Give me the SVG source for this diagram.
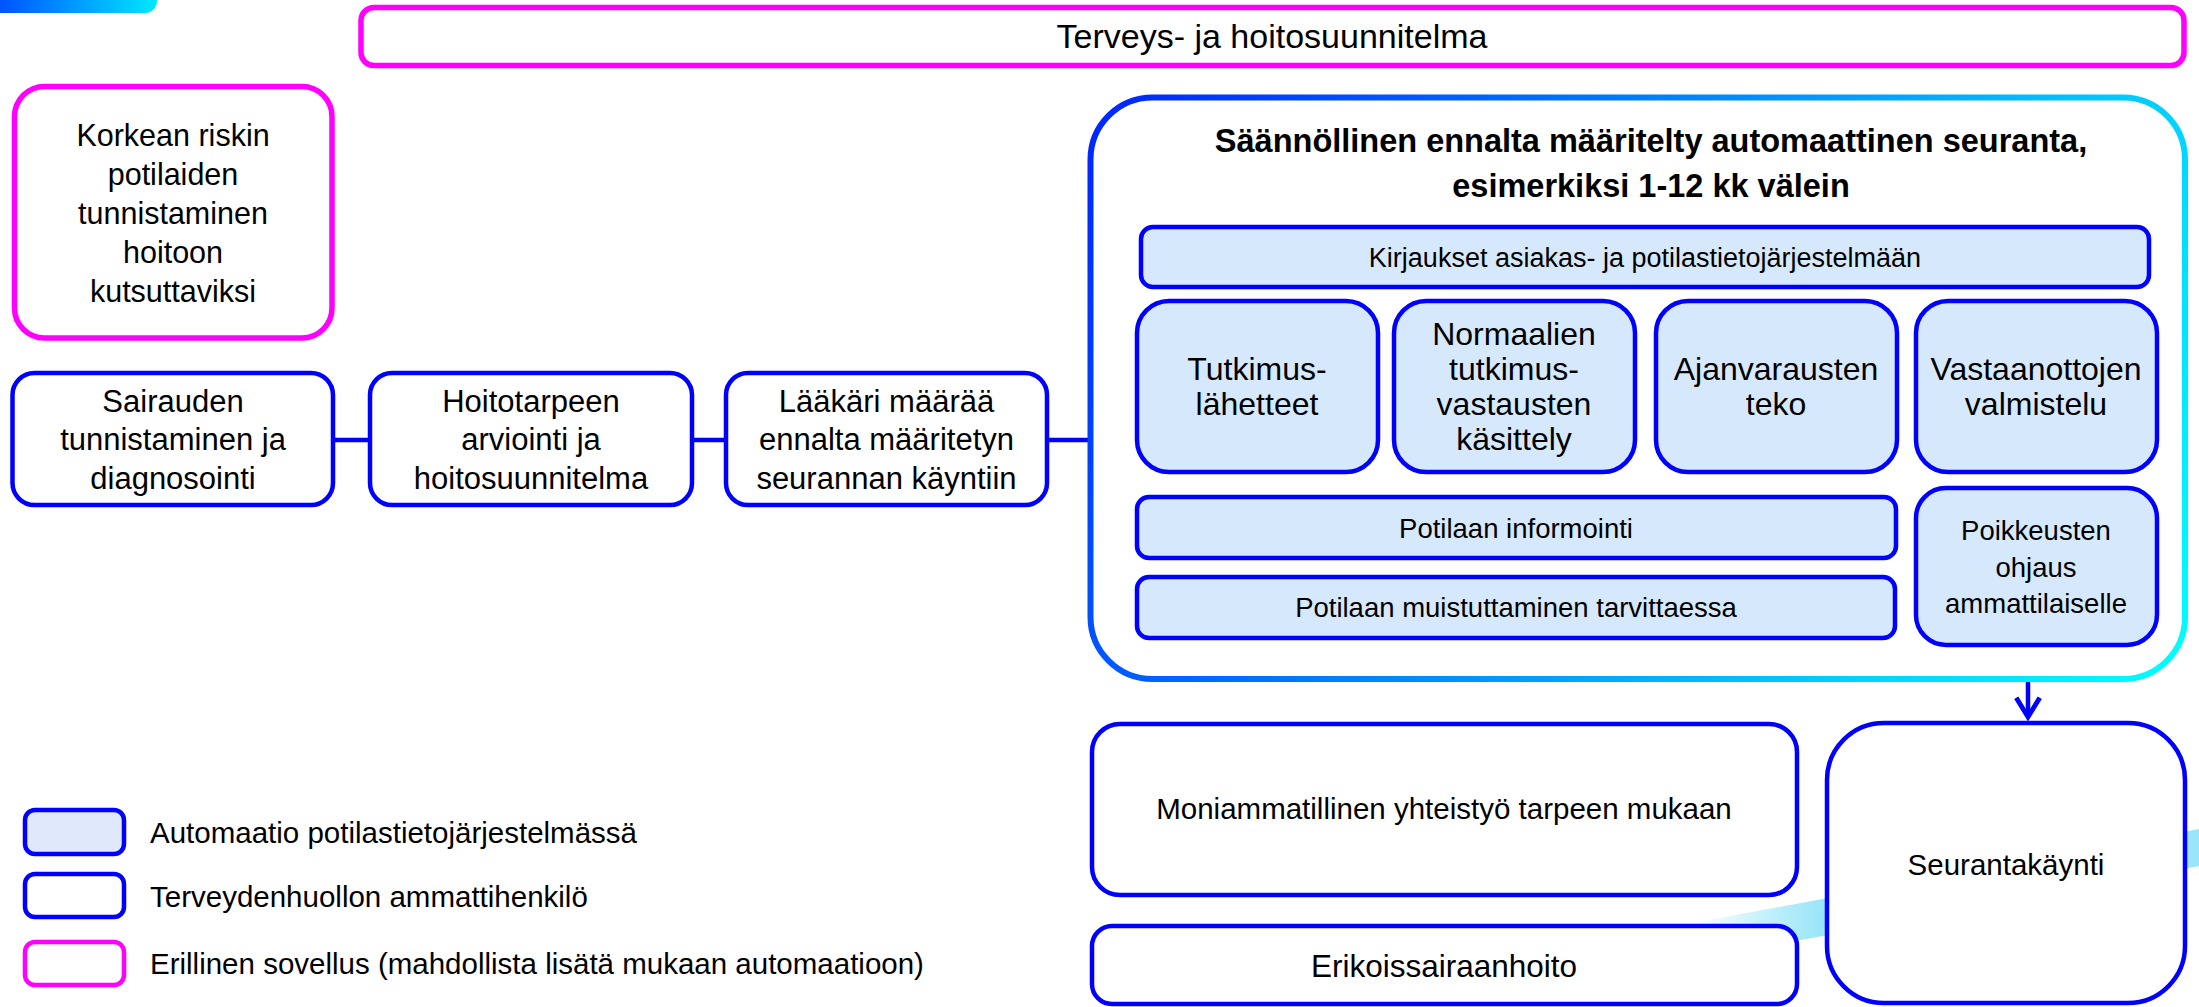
<svg xmlns="http://www.w3.org/2000/svg" width="2199" height="1007" viewBox="0 0 2199 1007">
<defs>
<style>
text{font-family:"Liberation Sans",Arial,sans-serif;fill:#000;text-anchor:middle}
.b{fill:#fff;stroke:#0000ff;stroke-width:4.5}
.a{fill:#d6e8fc;stroke:#0000ff;stroke-width:4.5}
.p{fill:#fff;stroke:#ff00ff;stroke-width:5.5}
.f31{font-size:31px}
.f305{font-size:30.5px}
.f295{font-size:29.5px}
.f32{font-size:32px}
.f275{font-size:27.5px}
.f27{font-size:27px}
.ttl{font-size:32.5px;font-weight:bold}
.leg{text-anchor:start;font-size:29.5px}
.con{stroke:#0000ff;stroke-width:4.5;fill:none}
</style>
<linearGradient id="gBar" x1="0" y1="0" x2="1" y2="0">
<stop offset="0" stop-color="#0040ff"/>
<stop offset="1" stop-color="#00e8ff"/>
</linearGradient>
<linearGradient id="gBig" gradientUnits="userSpaceOnUse" x1="1090" y1="97" x2="2185" y2="679">
<stop offset="0" stop-color="#0024ff"/>
<stop offset="0.5" stop-color="#0095ff"/>
<stop offset="0.8" stop-color="#00d8ff"/>
<stop offset="1" stop-color="#00ffff"/>
</linearGradient>
<linearGradient id="gBand" gradientUnits="userSpaceOnUse" x1="1690" y1="0" x2="1820" y2="0">
<stop offset="0" stop-color="#8fe3f7" stop-opacity="0"/>
<stop offset="1" stop-color="#8fe3f7" stop-opacity="0.9"/>
</linearGradient>
<marker id="arr" markerUnits="userSpaceOnUse" markerWidth="30" markerHeight="30" viewBox="-2 -14 24 28" refX="18" refY="0" orient="auto" overflow="visible">
<path d="M0,-11 L18,0 L0,11" fill="none" stroke="#0000ff" stroke-width="4.5"/>
</marker>
</defs>

<rect width="2199" height="1007" fill="#fff"/>
<polygon id="band" points="1650,931 2199,829 2199,866 1650,968" fill="url(#gBand)"/>
<rect id="topbar" x="-20" y="-20" width="177" height="33" rx="12" fill="url(#gBar)"/>

<g id="title-box">
<rect class="p" x="361" y="7.5" width="1823" height="58" rx="13"/>
<text x="1272" y="48" style="font-size:34px">Terveys- ja hoitosuunnitelma</text>
</g>

<g id="risk-box">
<rect class="p" x="14.5" y="86.5" width="317.5" height="251.5" rx="30"/>
<text class="f305" x="173" y="146">Korkean riskin</text>
<text class="f305" x="173" y="185">potilaiden</text>
<text class="f305" x="173" y="224">tunnistaminen</text>
<text class="f305" x="173" y="263">hoitoon</text>
<text class="f305" x="173" y="302">kutsuttaviksi</text>
</g>

<g id="connectors">
<line class="con" x1="333" y1="440" x2="370" y2="440"/>
<line class="con" x1="692" y1="440" x2="726" y2="440"/>
<line class="con" x1="1047" y1="440" x2="1090" y2="440"/>
<line class="con" x1="2028" y1="638" x2="2028" y2="717" marker-end="url(#arr)"/>
</g>

<g id="diagnosis">
<rect class="b" x="12.5" y="373" width="320.5" height="132" rx="22"/>
<text class="f31" x="173" y="412">Sairauden</text>
<text class="f31" x="173" y="450">tunnistaminen ja</text>
<text class="f31" x="173" y="489">diagnosointi</text>
</g>

<g id="assessment">
<rect class="b" x="370" y="373" width="322" height="132" rx="22"/>
<text class="f31" x="531" y="412">Hoitotarpeen</text>
<text class="f31" x="531" y="450">arviointi ja</text>
<text class="f31" x="531" y="489">hoitosuunnitelma</text>
</g>

<g id="doctor">
<rect class="b" x="726" y="373" width="321" height="132" rx="22"/>
<text class="f31" x="886.5" y="412">Lääkäri määrää</text>
<text class="f31" x="886.5" y="450">ennalta määritetyn</text>
<text class="f31" x="886.5" y="489">seurannan käyntiin</text>
</g>

<g id="auto-monitoring">
<rect x="1090.5" y="97.5" width="1094.5" height="581.5" rx="62" fill="#fff" stroke="url(#gBig)" stroke-width="6"/>
<text class="ttl" x="1651" y="152">Säännöllinen ennalta määritelty automaattinen seuranta,</text>
<text class="ttl" x="1651" y="197">esimerkiksi 1-12 kk välein</text>
</g>

<g id="records">
<rect class="a" x="1141" y="227" width="1008" height="60" rx="12"/>
<text class="f27" x="1645" y="267">Kirjaukset asiakas- ja potilastietojärjestelmään</text>
</g>

<g id="referrals">
<rect class="a" x="1137" y="301" width="241" height="171" rx="32"/>
<text class="f32" x="1257" y="380">Tutkimus-</text>
<text class="f32" x="1257" y="415">lähetteet</text>
</g>

<g id="normal-results">
<rect class="a" x="1394" y="301" width="241" height="171" rx="32"/>
<text class="f32" x="1514" y="345">Normaalien</text>
<text class="f32" x="1514" y="380">tutkimus-</text>
<text class="f32" x="1514" y="415">vastausten</text>
<text class="f32" x="1514" y="450">käsittely</text>
</g>

<g id="appointments">
<rect class="a" x="1656" y="301" width="241" height="171" rx="32"/>
<text class="f32" x="1776" y="380">Ajanvarausten</text>
<text class="f32" x="1776" y="415">teko</text>
</g>

<g id="visit-prep">
<rect class="a" x="1916" y="301" width="241" height="171" rx="32"/>
<text class="f32" x="2036" y="380">Vastaanottojen</text>
<text class="f32" x="2036" y="415">valmistelu</text>
</g>

<g id="patient-info">
<rect class="a" x="1137" y="497" width="759" height="61" rx="12"/>
<text class="f275" x="1516" y="538">Potilaan informointi</text>
</g>

<g id="patient-reminder">
<rect class="a" x="1137" y="577" width="758" height="61" rx="12"/>
<text class="f275" x="1516" y="617">Potilaan muistuttaminen tarvittaessa</text>
</g>

<g id="exceptions">
<rect class="a" x="1916" y="488" width="241" height="157" rx="30"/>
<text class="f275" x="2036" y="540">Poikkeusten</text>
<text class="f275" x="2036" y="577">ohjaus</text>
<text class="f275" x="2036" y="613">ammattilaiselle</text>
</g>

<g id="multiprofessional">
<rect class="b" x="1092" y="724" width="705" height="171" rx="28"/>
<text class="f295" x="1444" y="819">Moniammatillinen yhteistyö tarpeen mukaan</text>
</g>

<g id="specialist">
<rect class="b" x="1092" y="926" width="705" height="78" rx="20"/>
<text x="1444" y="977" style="font-size:31.5px">Erikoissairaanhoito</text>
</g>

<g id="followup-visit">
<rect class="b" x="1827" y="723" width="358" height="280" rx="57"/>
<text class="f295" x="2006" y="875">Seurantakäynti</text>
</g>

<g id="legend">
<rect class="a" x="25" y="810" width="99" height="44" rx="10" style="fill:#e0e8fb"/>
<text class="leg" x="150" y="843">Automaatio potilastietojärjestelmässä</text>
<rect class="b" x="25" y="874" width="99" height="43" rx="10"/>
<text class="leg" x="150" y="907">Terveydenhuollon ammattihenkilö</text>
<rect class="p" x="25" y="942" width="99" height="43" rx="10" style="stroke-width:4.5"/>
<text class="leg" x="150" y="974">Erillinen sovellus (mahdollista lisätä mukaan automaatioon)</text>
</g>
</svg>
